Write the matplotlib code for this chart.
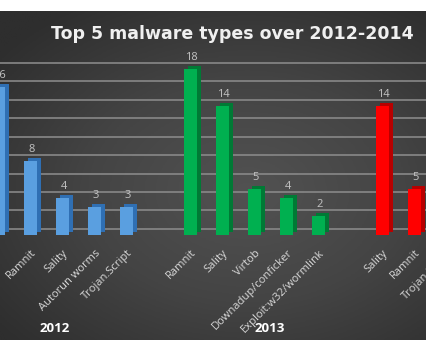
import numpy as np
import matplotlib
matplotlib.use("Agg")
import matplotlib.pyplot as plt
import matplotlib.transforms as mtransforms
from matplotlib.colors import LinearSegmentedColormap

plt.rcParams['font.family'] = ['Open Sans', 'DejaVu Sans']

# dados
labels_2012 = ["Conficker", "Ramnit", "Sality", "Autorun worms", "Trojan.Script"]
values_2012 = [16, 8, 4, 3, 3]
labels_2013 = ["Ramnit", "Sality", "Virtob", "Downadup/conficker", "Exploit:w32/wormlink"]
values_2013 = [18, 14, 5, 4, 2]
labels_2014 = ["Sality", "Ramnit", "Trojan.Script"]
values_2014 = [14, 5, 3]
years = ["2012", "2013"]

grupos = [
    (labels_2012, values_2012, "#5a9fe0", "#2f6fb3"),
    (labels_2013, values_2013, "#00b050", "#007a35"),
    (labels_2014, values_2014, "#ff0000", "#b80000"),
]

fig = plt.figure(figsize=(4.26, 3.51), dpi=100)
fig.patch.set_facecolor("white")

# fundo escuro com gradiente
bg = fig.add_axes([0, 0.031, 1, 0.938], zorder=-1)
yy, xx = np.mgrid[0:1:200j, 0:1:240j]
r = np.sqrt(((xx - 0.58) / 1.0) ** 2 + ((yy - 0.55) / 0.9) ** 2)
cmap = LinearSegmentedColormap.from_list("bg", ["#525252", "#444444", "#2e2e2e"])
bg.imshow(r, cmap=cmap, aspect="auto", extent=[0, 1, 0, 1], vmin=0, vmax=0.75)
bg.axis("off")

# eixo mais largo que a figura: o gráfico original foi recortado à direita
larg = 1.3
ax = fig.add_axes([0, 0.3305, larg, 0.527])
ax.set_facecolor("none")
for s in ax.spines.values():
    s.set_visible(False)
ax.set_yticks([])

# linhas de grade (parede de fundo, deslocada)
grid_tr = mtransforms.offset_copy(ax.get_yaxis_transform(), fig=fig, x=0, y=6, units="dots")
for v in range(0, 20, 2):
    ax.plot([0, 1], [v, v], color="#888888", lw=1.2, transform=grid_tr, zorder=1)

depth_tr = mtransforms.offset_copy(ax.transData, fig=fig, x=4, y=3, units="dots")

xs_all, labels_all = [], []
pos = 0
for labels, values, cor, cor_lado in grupos:
    xs = np.arange(pos, pos + len(values))
    ax.bar(xs, values, width=0.41, color=cor_lado, transform=depth_tr, zorder=2)
    ax.bar(xs, values, width=0.41, color=cor, zorder=3)
    for x, v in zip(xs, values):
        ax.annotate(str(v), (x, v), xytext=(1, 6), textcoords="offset pixels",
                    ha="center", va="bottom", color="#c4c4c4", fontsize=8,
                    annotation_clip=False)
    xs_all += list(xs)
    labels_all += labels
    pos += len(values) + 1

ax.set_xticks(xs_all, labels_all, rotation=45, ha="right", rotation_mode="anchor",
              color="#d9d9d9", fontsize=8)
ax.tick_params(axis="x", length=0, pad=9)
# set_xticks amplia os limites, então os limites vêm depois
ax.set_xlim(0.04, 0.04 + 426 * larg / 32)
ax.set_ylim(0, 20)

# rótulos dos anos
ano_tr = mtransforms.blended_transform_factory(ax.transData, fig.transFigure)
ax.text(1.75, (351 - 328) / 351, years[0], transform=ano_tr, ha="center", va="center",
        color="white", fontsize=9.5, fontweight="bold")
ax.text(8.47, (351 - 328) / 351, years[1], transform=ano_tr, ha="center", va="center",
        color="white", fontsize=9.5, fontweight="bold")

fig.text(0.546, 0.904, "Top 5 malware types over 2012-2014", ha="center", va="center",
         color="#f0f0f0", fontsize=12.5, fontweight="bold", family="DejaVu Sans")

fig.savefig("out.png", dpi=100)
